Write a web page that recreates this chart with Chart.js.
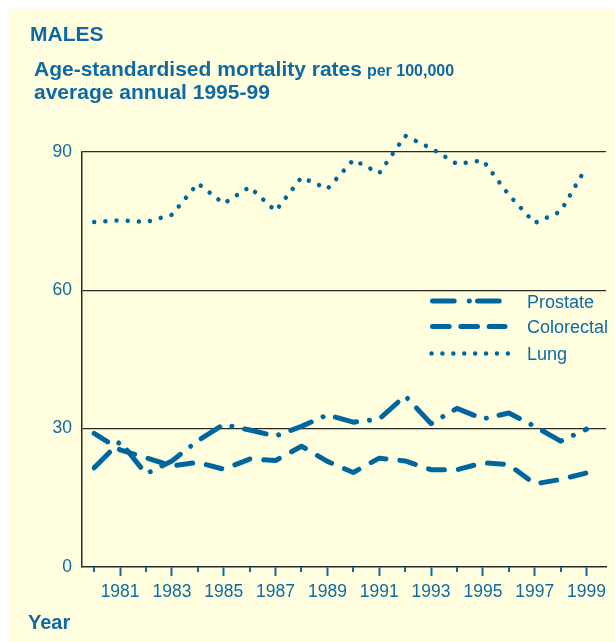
<!DOCTYPE html>
<html>
<head>
<meta charset="utf-8">
<script src="https://cdn.jsdelivr.net/npm/chart.js@4/dist/chart.umd.min.js"></script>
<style>
  html, body { margin: 0; padding: 0; background: #ffffff; }
  #wrap { width: 615px; height: 642px; position: relative; }
</style>
</head>
<body>
<div id="wrap"><canvas id="c" width="615" height="642"></canvas></div>
<script>
// ---- Data ----
const years = [1980, 1981, 1982, 1983, 1984, 1985, 1986, 1987, 1988, 1989,
               1990, 1991, 1992, 1993, 1994, 1995, 1996, 1997, 1998, 1999];
const prostate = [21.5, 27.2, 20.2, 23.0, 27.4, 30.9, 29.7, 28.4, 30.5, 33.0,
                  31.4, 32.1, 37.1, 31.1, 34.4, 32.1, 33.4, 30.5, 27.3, 29.9];
const colorectal = [29.0, 25.4, 23.7, 21.9, 22.7, 21.2, 23.4, 23.1, 26.2, 22.9,
                    20.5, 23.6, 23.0, 21.1, 21.1, 22.6, 22.2, 18.0, 19.0, 20.4];
const lung = [74.8, 75.2, 74.8, 76.4, 83.2, 78.8, 82.4, 77.2, 84.5, 82.0,
              88.3, 85.4, 93.5, 90.8, 87.4, 88.2, 80.7, 74.6, 77.1, 86.8];
const yTickValues = [0, 30, 60, 90];
const seriesNames = ['Prostate', 'Colorectal', 'Lung'];
const titleMain = 'MALES';
const subtitle1 = 'Age-standardised mortality rates';
const subtitle1Small = 'per 100,000';
const subtitle2 = 'average annual 1995-99';
const xTitle = 'Year';

// ---- Styles ----
const LINE = '#00679e';
const TEXT = '#0f6aa3';
const GRID = '#2a2a2a';
const BG = '#ffffe0';
const FONT = '"Liberation Sans", Arial, Helvetica, sans-serif';

const styles = {
  Prostate:   { dash: [22, 13, 0.01, 13], width: 5 },
  Colorectal: { dash: [16, 14], width: 5 },
  Lung:       { dash: [0.01, 11.2], width: 4.5 }
};
const seriesData = { Prostate: prostate, Colorectal: colorectal, Lung: lung };

Chart.defaults.font.family = FONT;

const bgPlugin = {
  id: 'bg',
  beforeDraw(chart) {
    const ctx = chart.ctx;
    ctx.save();
    ctx.fillStyle = '#ffffff';
    ctx.fillRect(0, 0, chart.width, chart.height);
    ctx.fillStyle = BG;
    ctx.fillRect(9, 9, chart.width - 9, chart.height - 9);
    ctx.restore();
  }
};

const decoPlugin = {
  id: 'deco',
  afterDraw(chart) {
    const ctx = chart.ctx;
    const xs = chart.scales.x;
    const bottom = chart.chartArea.bottom;
    ctx.save();
    // minor ticks for even years
    ctx.strokeStyle = TEXT;
    ctx.lineWidth = 2;
    years.filter(v => v % 2 === 0).forEach(v => {
      const px = Math.round(xs.getPixelForValue(v)) ;
      ctx.beginPath();
      ctx.moveTo(px, bottom);
      ctx.lineTo(px, bottom + 5);
      ctx.stroke();
    });

    // titles
    ctx.fillStyle = TEXT;
    ctx.textBaseline = 'alphabetic';
    ctx.textAlign = 'left';
    ctx.font = 'bold 21px ' + FONT;
    ctx.fillText(titleMain, 30, 41);
    ctx.fillText(subtitle1, 34, 76);
    const w1 = ctx.measureText(subtitle1).width;
    ctx.fillText(subtitle2, 34, 99);
    ctx.font = 'bold 16px ' + FONT;
    ctx.fillText(subtitle1Small, 34 + w1 + 5, 76);
    ctx.font = 'bold 20px ' + FONT;
    ctx.fillText(xTitle, 28, 629);

    // legend
    const legendRows = [
      { name: 'Prostate',   y: 301,   x0: 432.5, x1: 499.5, dash: [21.7, 15.1, 0.01, 8.2, 21.7, 100] },
      { name: 'Colorectal', y: 326.5, x0: 432.5, x1: 505,   dash: [16.7, 11.6] },
      { name: 'Lung',       y: 353.5, x0: 431.5, x1: 508,   dash: [0.01, 10.9] }
    ];
    legendRows.forEach(r => {
      ctx.save();
      ctx.strokeStyle = LINE;
      ctx.lineWidth = styles[r.name].width;
      ctx.lineCap = 'round';
      ctx.setLineDash(r.dash);
      ctx.beginPath();
      ctx.moveTo(r.x0, r.y);
      ctx.lineTo(r.x1, r.y);
      ctx.stroke();
      ctx.restore();
      ctx.fillStyle = TEXT;
      ctx.font = '18px ' + FONT;
      ctx.textBaseline = 'alphabetic';
      ctx.fillText(r.name, 527, r.y + 6.8);
    });
    ctx.restore();
  }
};

const datasets = seriesNames.map(name => ({
  label: name,
  data: years.map((yr, i) => ({ x: yr, y: seriesData[name][i] })),
  borderColor: LINE,
  backgroundColor: LINE,
  borderWidth: styles[name].width,
  borderDash: styles[name].dash,
  borderCapStyle: 'round',
  borderJoinStyle: 'round',
  pointRadius: 0,
  pointHoverRadius: 0,
  tension: 0,
  fill: false,
  clip: false
}));

new Chart(document.getElementById('c'), {
  type: 'line',
  data: { datasets },
  options: {
    responsive: false,
    animation: false,
    devicePixelRatio: 1,
    events: [],
    layout: { padding: { left: 0, top: 152, right: 9, bottom: 35 } },
    plugins: { legend: { display: false }, tooltip: { enabled: false }, title: { display: false } },
    scales: {
      x: {
        type: 'linear',
        min: 1979.53,
        max: 1999.75,
        afterBuildTicks: s => { s.ticks = years.map(v => ({ value: v })); },
        afterFit: s => { s.height = 40; },
        grid: {
          drawOnChartArea: false,
          drawTicks: true,
          tickLength: 9,
          tickWidth: 2,
          tickColor: c => (c.tick && c.tick.value % 2 === 1) ? TEXT : 'rgba(0,0,0,0)'
        },
        border: { color: GRID, width: 1.5 },
        ticks: {
          autoSkip: false,
          maxRotation: 0,
          minRotation: 0,
          padding: 6,
          color: TEXT,
          font: { size: 17.5 },
          callback: v => (v % 2 === 1) ? String(v) : ''
        }
      },
      y: {
        min: 0,
        max: 90,
        afterBuildTicks: s => { s.ticks = yTickValues.map(v => ({ value: v })); },
        afterFit: s => { s.width = 82; },
        grid: {
          drawTicks: false,
          lineWidth: 1.2,
          color: c => (c.tick && c.tick.value === 0) ? 'rgba(0,0,0,0)' : GRID
        },
        border: { color: GRID, width: 1.5 },
        ticks: {
          padding: 10,
          color: TEXT,
          font: { size: 17.5 }
        }
      }
    }
  },
  plugins: [bgPlugin, decoPlugin]
});
</script>
</body>
</html>
